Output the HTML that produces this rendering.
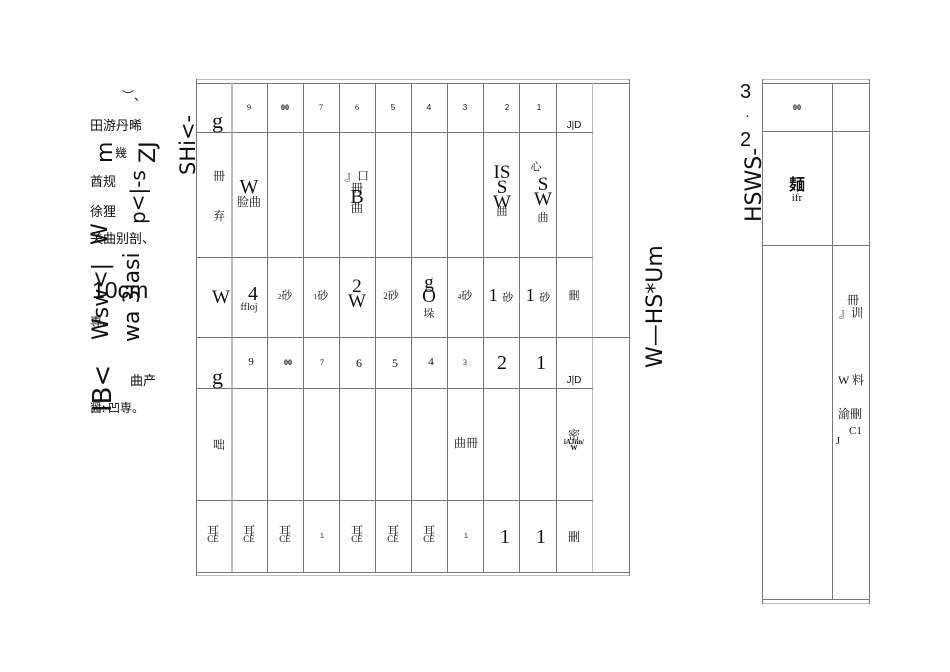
<!DOCTYPE html>
<html><head><meta charset="utf-8"><style>
html,body{margin:0;padding:0;background:#fff;}
body{width:950px;height:672px;position:relative;overflow:hidden;font-family:"Liberation Serif","Noto Serif CJK SC",serif;color:#111;}
.l{position:absolute;background:#777;}
.g{position:absolute;background:#bbb;}
.t{position:absolute;white-space:nowrap;line-height:1;}
.c{transform:translateX(-50%);text-align:center;}
.s{font-family:"Liberation Sans","Noto Sans CJK SC",sans-serif;}
.r{position:absolute;white-space:nowrap;line-height:1;font-family:"DejaVu Sans","Noto Sans CJK SC",sans-serif;transform-origin:0 0;transform:rotate(-90deg);}
</style></head><body>

<div class="g" style="left:196px;top:79px;width:434px;height:1px"></div>
<div class="l" style="left:196px;top:83px;width:434px;height:1px"></div>
<div class="g" style="left:196px;top:575px;width:434px;height:1px"></div>
<div class="l" style="left:196px;top:572px;width:434px;height:1px"></div>
<div class="l" style="left:196px;top:79px;width:1px;height:497px"></div>
<div class="l" style="left:629px;top:79px;width:1px;height:497px"></div>
<div class="g" style="left:231px;top:83px;width:2px;height:489px"></div>
<div class="l" style="left:267px;top:83px;width:1px;height:489px"></div>
<div class="l" style="left:303px;top:83px;width:1px;height:489px"></div>
<div class="l" style="left:339px;top:83px;width:1px;height:489px"></div>
<div class="l" style="left:375px;top:83px;width:1px;height:489px"></div>
<div class="l" style="left:411px;top:83px;width:1px;height:489px"></div>
<div class="l" style="left:447px;top:83px;width:1px;height:489px"></div>
<div class="l" style="left:483px;top:83px;width:1px;height:489px"></div>
<div class="l" style="left:519px;top:83px;width:1px;height:489px"></div>
<div class="l" style="left:556px;top:83px;width:1px;height:489px"></div>
<div class="g" style="left:592px;top:83px;width:1px;height:489px"></div>
<div class="l" style="left:196px;top:132px;width:397px;height:1px"></div>
<div class="l" style="left:196px;top:257px;width:397px;height:1px"></div>
<div class="l" style="left:196px;top:337px;width:434px;height:1px"></div>
<div class="l" style="left:196px;top:388px;width:397px;height:1px"></div>
<div class="l" style="left:196px;top:500px;width:397px;height:1px"></div>

<div class="t" style="left:212px;top:110px;font-size:22px">g</div>
<div class="t c" style="left:249px;top:104px;font-size:8px">9</div>
<div class="t c" style="left:285px;top:104px;font-size:8px;font-weight:bold">00</div>
<div class="t c" style="left:321px;top:104px;font-size:8px">7</div>
<div class="t c" style="left:357px;top:104px;font-size:8px">6</div>
<div class="t c s" style="left:393px;top:104px;font-size:8px">5</div>
<div class="t c s" style="left:429px;top:104px;font-size:8px">4</div>
<div class="t c s" style="left:465px;top:104px;font-size:8px">3</div>
<div class="t c s" style="left:507px;top:104px;font-size:8px">2</div>
<div class="t c s" style="left:539px;top:104px;font-size:8px">1</div>
<div class="t c s" style="left:574px;top:121px;font-size:10px">J|D</div>
<div class="t c" style="left:219px;top:170px;font-size:12px">冊</div>
<div class="t c" style="left:219px;top:210px;font-size:12px">弃</div>
<div class="t c" style="left:249px;top:177px;font-size:20px">W</div>
<div class="t c" style="left:249px;top:196px;font-size:12px">脸曲</div>
<div class="t c" style="left:357px;top:170px;font-size:12px">』口<br>冊</div>
<div class="t c" style="left:357px;top:187px;font-size:20px">B</div>
<div class="t c" style="left:357px;top:202px;font-size:12px">曲</div>
<div class="t c" style="left:502px;top:165px;font-size:19px;line-height:0.8">IS<br>S<br>W</div>
<div class="t c" style="left:502px;top:207px;font-size:11px">曲</div>
<div class="t c" style="left:540px;top:162px;font-size:11px;margin-left:-4px">心</div>
<div class="t c" style="left:543px;top:177px;font-size:19px;line-height:0.8">S<br>W</div>
<div class="t c" style="left:543px;top:213px;font-size:11px">曲</div>
<div class="t c" style="left:221px;top:288px;font-size:19px">W</div>
<div class="t c" style="left:253px;top:284px;font-size:20px">4</div>
<div class="t c" style="left:249px;top:303px;font-size:10px">ffloj</div>
<div class="t c" style="left:285px;top:291px;font-size:11px"><span style="font-size:7px">2</span>砂</div>
<div class="t c" style="left:321px;top:291px;font-size:11px"><span style="font-size:7px">1</span>砂</div>
<div class="t c" style="left:357px;top:279px;font-size:19px;line-height:0.8">2<br>W</div>
<div class="t c" style="left:391px;top:291px;font-size:11px"><span style="font-size:9px">2</span>砂</div>
<div class="t c" style="left:429px;top:276px;font-size:19px;line-height:0.75">g<br>O</div>
<div class="t c" style="left:429px;top:309px;font-size:11px">垛</div>
<div class="t c" style="left:465px;top:291px;font-size:11px"><span style="font-size:7px">4</span>砂</div>
<div class="t c" style="left:501px;top:286px;font-size:18px">1 <span style="font-size:11px">砂</span></div>
<div class="t c" style="left:538px;top:286px;font-size:18px">1 <span style="font-size:11px">砂</span></div>
<div class="t c" style="left:574px;top:291px;font-size:11px">刪</div>
<div class="t" style="left:212px;top:366px;font-size:22px">g</div>
<div class="t c" style="left:251px;top:357px;font-size:11px">9</div>
<div class="t c" style="left:288px;top:359px;font-size:8px;font-weight:bold">00</div>
<div class="t c" style="left:322px;top:359px;font-size:8px">7</div>
<div class="t c" style="left:359px;top:357px;font-size:12px">6</div>
<div class="t c" style="left:395px;top:357px;font-size:12px">5</div>
<div class="t c" style="left:431px;top:357px;font-size:11px">4</div>
<div class="t c" style="left:465px;top:359px;font-size:8px">3</div>
<div class="t c" style="left:502px;top:353px;font-size:20px">2</div>
<div class="t c" style="left:541px;top:353px;font-size:20px">1</div>
<div class="t c s" style="left:574px;top:376px;font-size:10px">J|D</div>
<div class="t c" style="left:219px;top:439px;font-size:12px">咄</div>
<div class="t c" style="left:466px;top:437px;font-size:12px">曲冊</div>
<div class="t c" style="left:574px;top:429px;font-size:12px">密</div>
<div class="t c" style="left:574px;top:439px;font-size:7px;font-weight:bold;line-height:0.9">iAJnn/<br>W</div>
<div class="t c" style="left:213px;top:525px;font-size:12px">耳</div><div class="t c" style="left:213px;top:535px;font-size:9px">CE</div>
<div class="t c" style="left:249px;top:525px;font-size:12px">耳</div><div class="t c" style="left:249px;top:535px;font-size:9px">CE</div>
<div class="t c" style="left:285px;top:525px;font-size:12px">耳</div><div class="t c" style="left:285px;top:535px;font-size:9px">CE</div>
<div class="t c s" style="left:322px;top:533px;font-size:7px">1</div>
<div class="t c" style="left:357px;top:525px;font-size:12px">耳</div><div class="t c" style="left:357px;top:535px;font-size:9px">CE</div>
<div class="t c" style="left:393px;top:525px;font-size:12px">耳</div><div class="t c" style="left:393px;top:535px;font-size:9px">CE</div>
<div class="t c" style="left:429px;top:525px;font-size:12px">耳</div><div class="t c" style="left:429px;top:535px;font-size:9px">CE</div>
<div class="t c s" style="left:466px;top:533px;font-size:7px">1</div>
<div class="t c" style="left:505px;top:527px;font-size:20px">1</div>
<div class="t c" style="left:541px;top:527px;font-size:20px">1</div>
<div class="t c" style="left:574px;top:531px;font-size:12px">刪</div>

<div class="g" style="left:762px;top:79px;width:108px;height:1px"></div>
<div class="l" style="left:762px;top:83px;width:108px;height:1px"></div>
<div class="l" style="left:762px;top:131px;width:108px;height:1px"></div>
<div class="l" style="left:762px;top:245px;width:108px;height:1px"></div>
<div class="l" style="left:762px;top:599px;width:108px;height:1px"></div>
<div class="g" style="left:762px;top:603px;width:108px;height:1px"></div>
<div class="l" style="left:762px;top:79px;width:1px;height:525px"></div>
<div class="l" style="left:832px;top:83px;width:1px;height:517px"></div>
<div class="l" style="left:869px;top:79px;width:1px;height:525px"></div>
<div class="t c" style="left:797px;top:104px;font-size:8px;font-weight:bold">00</div>
<div class="t c" style="left:797px;top:175px;font-size:16px;font-weight:bold;font-family:'Noto Sans CJK SC',sans-serif">麺</div>
<div class="t c" style="left:797px;top:193px;font-size:11px">ifr</div>
<div class="t" style="left:847px;top:294px;font-size:12px">冊</div>
<div class="t" style="left:839px;top:307px;font-size:12px">』训</div>
<div class="t" style="left:838px;top:374px;font-size:12px">W 料</div>
<div class="t" style="left:838px;top:408px;font-size:12px">渝刪</div>
<div class="t" style="left:849px;top:426px;font-size:11px">C1</div>
<div class="t" style="left:836px;top:437px;font-size:10px">J</div>

<div class="r" style="left:645px;top:368px;font-size:22px">W—HS*Um</div>
<div class="r" style="left:744px;top:222px;font-size:22px">HSWS-</div>
<div class="t s" style="left:740px;top:82px;font-size:20px">3</div>
<div class="t s" style="left:745px;top:108px;font-size:14px">·</div>
<div class="t s" style="left:740px;top:130px;font-size:20px">2</div>

<div class="r" style="left:178px;top:175px;font-size:21px">SHi&lt;-</div>
<div class="t s" style="left:122px;top:90px;font-size:12px">︶、</div>
<div class="t" style="left:90px;top:118px;font-size:13px;font-family:'Noto Sans CJK SC',sans-serif">田游丹晞</div>
<div class="r" style="left:95px;top:163px;font-size:22px">m</div>
<div class="t" style="left:115px;top:147px;font-size:12px;font-family:'Noto Sans CJK SC',sans-serif">幾</div>
<div class="r" style="left:138px;top:163px;font-size:22px">ZJ</div>
<div class="t" style="left:90px;top:174px;font-size:13px;font-family:'Noto Sans CJK SC',sans-serif">酋规</div>
<div class="r" style="left:128px;top:224px;font-size:20px">p&lt;|-s</div>
<div class="t" style="left:90px;top:204px;font-size:13px;font-family:'Noto Sans CJK SC',sans-serif">徐狸</div>
<div class="r" style="left:90px;top:245px;font-size:22px">W</div>
<div class="t" style="left:90px;top:231px;font-size:13px;font-family:'Noto Sans CJK SC',sans-serif">关曲别剖、</div>
<div class="r" style="left:91px;top:340px;font-size:22px">Wsw&lt;|</div>
<div class="r" style="left:122px;top:342px;font-size:22px">wa 3lasi</div>
<div class="t s" style="left:92px;top:279px;font-size:23px">10cm</div>
<div class="t" style="left:90px;top:316px;font-size:12px;font-family:'Noto Sans CJK SC',sans-serif">専、</div>
<div class="r" style="left:90px;top:412px;font-size:26px">IB&lt;</div>
<div class="t" style="left:130px;top:373px;font-size:13px;font-family:'Noto Sans CJK SC',sans-serif">曲产</div>
<div class="t" style="left:90px;top:402px;font-size:12px;font-family:'Noto Sans CJK SC',sans-serif">醤: 凹専。</div>
</body></html>
